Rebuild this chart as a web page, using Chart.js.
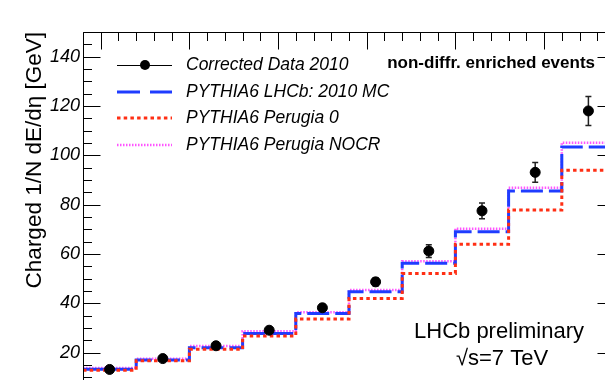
<!DOCTYPE html>
<html>
<head>
<meta charset="utf-8">
<script src="https://cdn.jsdelivr.net/npm/chart.js@4.4.1/dist/chart.umd.min.js"></script>
<style>
    html, body { margin: 0; padding: 0; overflow: hidden; background: #fff; }
    #wrap { width: 605px; height: 380px; overflow: hidden; }
</style>
</head>
<body>
<div id="wrap"><canvas id="graficaFlujo" width="630" height="420"></canvas></div>
<script>
// bins in eta (1.9 - 4.9, width 0.3)
const binEdges = [1.9, 2.2, 2.5, 2.8, 3.1, 3.4, 3.7, 4.0, 4.3, 4.6, 4.9];
const datos2010 = [13.2, 17.6, 22.8, 29.1, 38.2, 48.7, 61.2, 77.5, 93.1, 118.0];
const errores2010 = [0.6, 0.8, 1.0, 1.2, 1.4, 1.7, 2.6, 3.2, 4.0, 5.9];
const mcLHCb = [13.3, 17.0, 22.0, 27.8, 35.9, 44.7, 56.2, 69.0, 85.5, 103.4];
const perugia0 = [12.9, 16.7, 21.4, 26.8, 33.6, 42.0, 52.1, 64.0, 77.8, 94.0];
const perugiaNOCR = [13.8, 17.5, 22.7, 28.7, 36.4, 45.4, 57.1, 70.2, 86.9, 105.1];
const yTicks = [0, 20, 40, 60, 80, 100, 120, 140];

const FUENTE = '"Liberation Sans", Arial, Helvetica, sans-serif';

function escalones(valores) {
    const pts = valores.map((v, i) => ({ x: binEdges[i], y: v }));
    pts.push({ x: binEdges[binEdges.length - 1], y: valores[valores.length - 1] });
    return pts;
}

const centros = datos2010.map((v, i) => ({ x: (binEdges[i] + binEdges[i + 1]) / 2, y: v }));

const estilos = {
    mc: { color: '#1f3cff', width: 3, dash: [22, 6] },
    p0: { color: '#ff2f14', width: 3, dash: [3.5, 3.2] },
    nocr: { color: '#ff55ff', width: 2.5, dash: [1.5, 1.5] }
};

// error bars under the markers
const barrasError = {
    id: 'barrasError',
    beforeDatasetsDraw(chart) {
        const { ctx, scales: { x, y } } = chart;
        ctx.save();
        ctx.strokeStyle = '#222';
        ctx.lineWidth = 1.5;
        centros.forEach((p, i) => {
            const px = x.getPixelForValue(p.x);
            const y1 = y.getPixelForValue(p.y + errores2010[i]);
            const y2 = y.getPixelForValue(p.y - errores2010[i]);
            ctx.beginPath();
            ctx.moveTo(px, y1); ctx.lineTo(px, y2);
            ctx.moveTo(px - 3, y1); ctx.lineTo(px + 3, y1);
            ctx.moveTo(px - 3, y2); ctx.lineTo(px + 3, y2);
            ctx.stroke();
        });
        ctx.restore();
    }
};

// ROOT style frame with ticks inside
const marcoROOT = {
    id: 'marcoROOT',
    afterDatasetsDraw(chart) {
        const { ctx, chartArea: a, scales: { x, y } } = chart;
        const L = Math.round(a.left) + 0.5, R = Math.round(a.right) - 0.5, T = Math.round(a.top) + 0.5, B = a.bottom;
        ctx.save();
        ctx.strokeStyle = '#000';
        ctx.lineWidth = 1;
        ctx.beginPath();
        ctx.moveTo(L, B); ctx.lineTo(L, T); ctx.lineTo(R, T); ctx.lineTo(R, B);
        for (let v = 0; v <= 150; v += 5) {
            const py = Math.round(y.getPixelForValue(v)) + 0.5;
            const len = yTicks.includes(v) ? 17 : 8.5;
            ctx.moveTo(L, py); ctx.lineTo(L + len, py);
            ctx.moveTo(R, py); ctx.lineTo(R - len, py);
        }
        for (let i = 19; i <= 49; i++) {
            const px = Math.round(x.getPixelForValue(i / 10)) + 0.5;
            const len = i % 5 === 0 ? 17 : 8.5;
            ctx.moveTo(px, T); ctx.lineTo(px, T + len);
        }
        ctx.stroke();
        ctx.restore();
    }
};

const leyendaYTextos = {
    id: 'leyendaYTextos',
    afterDraw(chart) {
        const ctx = chart.ctx;
        ctx.save();
        const x0 = 117, x1 = 172, xt = 186;
        const filas = [
            { y: 65, txt: 'Corrected Data 2010' },
            { y: 92, txt: 'PYTHIA6 LHCb: 2010 MC', st: estilos.mc },
            { y: 118, txt: 'PYTHIA6 Perugia 0', st: estilos.p0 },
            { y: 145, txt: 'PYTHIA6 Perugia NOCR', st: estilos.nocr }
        ];
        filas.forEach((f, i) => {
            ctx.beginPath();
            if (i === 0) {
                ctx.strokeStyle = '#000'; ctx.lineWidth = 1; ctx.setLineDash([]);
                ctx.moveTo(x0, f.y + 0.5); ctx.lineTo(x1, f.y + 0.5); ctx.stroke();
                ctx.beginPath(); ctx.fillStyle = '#000';
                ctx.arc(145, f.y, 5, 0, Math.PI * 2); ctx.fill();
            } else {
                ctx.strokeStyle = f.st.color; ctx.lineWidth = f.st.width; ctx.setLineDash(i === 1 ? [23, 10] : f.st.dash);
                ctx.moveTo(x0, f.y); ctx.lineTo(x1, f.y); ctx.stroke();
            }
            ctx.setLineDash([]);
            ctx.fillStyle = '#000';
            ctx.font = 'italic 17.5px ' + FUENTE;
            ctx.textBaseline = 'middle';
            ctx.textAlign = 'left';
            ctx.fillText(f.txt, xt, f.y);
        });

        ctx.font = 'bold 17px ' + FUENTE;
        ctx.textAlign = 'right';
        ctx.textBaseline = 'alphabetic';
        ctx.fillText('non-diffr. enriched events', 595, 68);

        ctx.font = '22px ' + FUENTE;
        ctx.textAlign = 'center';
        ctx.fillText('LHCb preliminary', 499, 338);
        ctx.fillText('\u221As=7 TeV', 502, 365);
        ctx.restore();
    }
};

new Chart(document.getElementById('graficaFlujo'), {
    type: 'scatter',
    data: {
        datasets: [
            { label: 'Corrected Data 2010', data: centros, backgroundColor: '#000', borderColor: '#000', pointRadius: 5, pointHoverRadius: 5, showLine: false, order: 0 },
            { label: 'PYTHIA6 Perugia 0', data: escalones(perugia0), showLine: true, stepped: 'before', pointRadius: 0, borderColor: estilos.p0.color, borderWidth: estilos.p0.width, borderDash: estilos.p0.dash, order: 1 },
            { label: 'PYTHIA6 LHCb: 2010 MC', data: escalones(mcLHCb), showLine: true, stepped: 'before', pointRadius: 0, borderColor: estilos.mc.color, borderWidth: estilos.mc.width, borderDash: estilos.mc.dash, order: 2 },
            { label: 'PYTHIA6 Perugia NOCR', data: escalones(perugiaNOCR), showLine: true, stepped: 'before', pointRadius: 0, borderColor: estilos.nocr.color, borderWidth: estilos.nocr.width, borderDash: estilos.nocr.dash, order: 3 }
        ]
    },
    options: {
        responsive: false,
        devicePixelRatio: 1,
        animation: false,
        layout: { padding: { top: 32, right: 15, bottom: 18, left: 0 } },
        plugins: { legend: { display: false }, tooltip: { enabled: false } },
        scales: {
            x: { type: 'linear', min: 1.9, max: 4.9, display: false },
            y: {
                min: 0, max: 150,
                afterFit: (s) => { s.width = 83; },
                afterBuildTicks: (s) => { s.ticks = yTicks.map(v => ({ value: v })); },
                grid: { display: false, drawTicks: false },
                border: { display: false },
                ticks: { padding: 3, color: '#000', font: { family: FUENTE, size: 18, style: 'italic' } },
                title: {
                    display: true, text: 'Charged 1/N dE/d\u03B7 [GeV]', align: 'end', color: '#000',
                    font: { family: FUENTE, size: 22.5, lineHeight: 1 }, padding: { top: 23.5, bottom: 0 }
                }
            }
        }
    },
    plugins: [barrasError, marcoROOT, leyendaYTextos]
});
</script>
</body>
</html>
